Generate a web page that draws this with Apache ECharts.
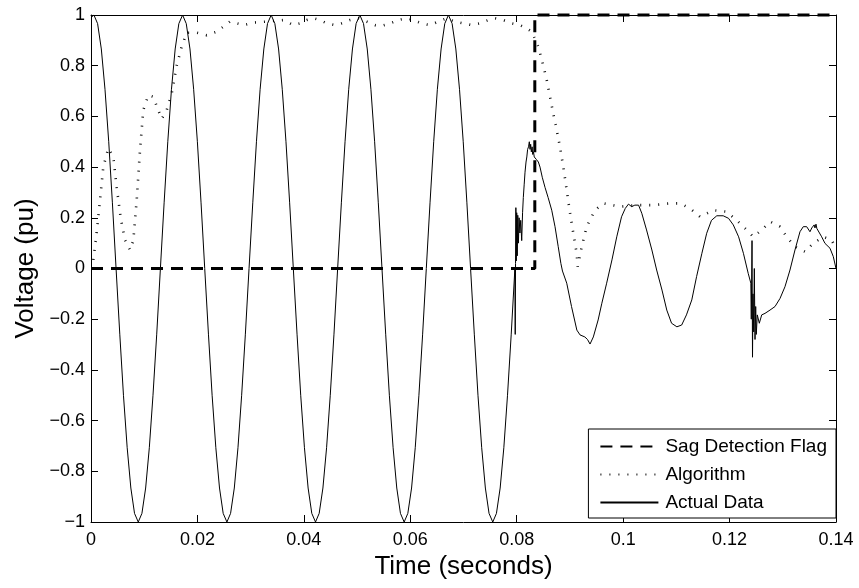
<!DOCTYPE html>
<html>
<head>
<meta charset="utf-8">
<script src="https://cdn.jsdelivr.net/npm/echarts@6/dist/echarts.min.js"></script>
<style>
html,body{margin:0;padding:0;background:#fff;}
#chart{width:859px;height:588px;}
</style>
</head>
<body>
<div id="chart"></div>
<script>
// ---- data ----
var seriesNames = ['Sag Detection Flag', 'Algorithm', 'Actual Data'];
var xTicks = [0, 0.02, 0.04, 0.06, 0.08, 0.1, 0.12, 0.14];

var tFlag = [0, 0.0834, 0.0834, 0.14];
var vFlag = [0, 0, 1, 1];

var tAlg = [0.00043, 0.00107, 0.00169, 0.00231, 0.00325, 0.00419, 0.00483, 0.00558, 0.00639, 0.00733,
  0.00795, 0.00859, 0.00921, 0.00983, 0.01077, 0.01171, 0.01235, 0.01329, 0.01423, 0.01517,
  0.01610, 0.01704, 0.01798, 0.01986, 0.02174, 0.02362, 0.02612, 0.02862, 0.03050, 0.03302,
  0.03614, 0.03802, 0.03928, 0.04053, 0.04178, 0.04303, 0.04429, 0.04585, 0.04711, 0.04867,
  0.05023, 0.05181, 0.05337, 0.05463, 0.05619, 0.05775, 0.05933, 0.06057, 0.06215, 0.06371,
  0.06527, 0.06684, 0.06840, 0.06996, 0.07154, 0.07310, 0.07466, 0.07592, 0.07748, 0.07906,
  0.08062, 0.08188, 0.08282, 0.08406, 0.08500, 0.08564, 0.08625, 0.08688, 0.08751, 0.08813,
  0.08876, 0.08939, 0.09001, 0.09064, 0.09127, 0.09146, 0.09221, 0.09315, 0.09471, 0.09627,
  0.09941, 0.10255, 0.10567, 0.10881, 0.11069, 0.11257, 0.11445, 0.11694, 0.11946, 0.12134,
  0.12322, 0.12446, 0.12604, 0.12760, 0.12948, 0.13073, 0.13229, 0.13417, 0.13573, 0.13761,
  0.13919, 0.13981];
var vAlg = [0.034, 0.14, 0.27, 0.40, 0.474, 0.44, 0.32, 0.20, 0.112, 0.073,
  0.11, 0.27, 0.467, 0.625, 0.684, 0.677, 0.64, 0.59, 0.625, 0.69,
  0.80, 0.875, 0.93, 0.93, 0.92, 0.934, 0.974, 0.96, 0.97, 0.974,
  0.98, 0.96, 0.967, 0.98, 0.987, 0.98, 0.967, 0.96, 0.967, 0.98,
  0.987, 0.974, 0.96, 0.957, 0.967, 0.98, 0.987, 0.98, 0.967, 0.96,
  0.974, 0.987, 0.974, 0.967, 0.96, 0.967, 0.98, 0.987, 0.98, 0.967,
  0.96, 0.947, 0.934, 0.875, 0.80, 0.744, 0.678, 0.61, 0.546, 0.48,
  0.40, 0.31, 0.22, 0.139, 0.06, 0.007, 0.086, 0.165, 0.23, 0.257,
  0.244, 0.25, 0.25, 0.257, 0.257, 0.237, 0.204, 0.23, 0.224, 0.19,
  0.152, 0.125, 0.152, 0.185, 0.165, 0.125, 0.086, 0.066, 0.10, 0.125,
  0.112, 0.086];

var tActual = [0, 0.00055, 0.00124, 0.00194, 0.00263, 0.00333, 0.00402, 0.00471, 0.00541, 0.00610, 0.00680,
  0.00749, 0.00818, 0.00888, 0.00957, 0.01027, 0.01096, 0.01165, 0.01235, 0.01304, 0.01374,
  0.01443, 0.01512, 0.01582, 0.01651,
  0.01721, 0.01790, 0.01860, 0.01929, 0.01999, 0.02068, 0.02137, 0.02207, 0.02276, 0.02346,
  0.02415, 0.02484, 0.02554, 0.02623, 0.02693, 0.02762, 0.02831, 0.02901, 0.02970, 0.03040,
  0.03109, 0.03178, 0.03248, 0.03317,
  0.03386, 0.03455, 0.03525, 0.03594, 0.03664, 0.03733, 0.03802, 0.03872, 0.03941, 0.04011,
  0.04080, 0.04149, 0.04219, 0.04288, 0.04358, 0.04427, 0.04496, 0.04566, 0.04635, 0.04705,
  0.04774, 0.04843, 0.04913, 0.04982,
  0.05052, 0.05121, 0.05191, 0.05260, 0.05330, 0.05399, 0.05468, 0.05538, 0.05607, 0.05677,
  0.05746, 0.05815, 0.05885, 0.05954, 0.06024, 0.06093, 0.06162, 0.06232, 0.06301, 0.06371,
  0.06440, 0.06509, 0.06579, 0.06648,
  0.06717, 0.06786, 0.06856, 0.06925, 0.06995, 0.07064, 0.07133, 0.07203, 0.07272, 0.07342,
  0.07411, 0.07480, 0.07550, 0.07619, 0.07689, 0.07758, 0.07827, 0.07897, 0.07966,
  0.07972, 0.07978, 0.07984, 0.07992, 0.08000, 0.08010, 0.08020, 0.08032, 0.08045, 0.08060,
  0.08075, 0.08094, 0.08110, 0.08124, 0.08140, 0.08156, 0.08175, 0.08190, 0.08205, 0.08222,
  0.08237, 0.08250, 0.08262, 0.08275, 0.08290, 0.08300, 0.08315, 0.08330, 0.08345, 0.08370,
  0.08407, 0.08438, 0.08480, 0.08532, 0.08590, 0.08658, 0.08720, 0.08780, 0.08830, 0.08860,
  0.08940, 0.09030, 0.09130, 0.09190, 0.09280, 0.09330, 0.09378, 0.09440, 0.09530, 0.09600,
  0.09690, 0.09790, 0.09880, 0.09970, 0.10040, 0.10100, 0.10160, 0.10220, 0.10290, 0.10350,
  0.10440, 0.10540, 0.10630, 0.10730, 0.10820, 0.10910, 0.11010, 0.11100, 0.11190, 0.11290,
  0.11380, 0.11480, 0.11570, 0.11660, 0.11760, 0.11880, 0.11980, 0.12070, 0.12170, 0.12260,
  0.12350, 0.12400, 0.12408, 0.12422, 0.12431, 0.12440, 0.12454, 0.12465, 0.12478, 0.12491,
  0.12502, 0.12521, 0.12559, 0.12604, 0.12666, 0.12760, 0.12854, 0.12948, 0.13041, 0.13135,
  0.13229, 0.13323, 0.13385, 0.13449, 0.13511, 0.13545, 0.13573, 0.13590, 0.13605, 0.13624,
  0.13640, 0.13667, 0.13731, 0.13793, 0.13887, 0.13949, 0.14000];
var vActual = [0.99, 1, 0.966, 0.866, 0.707, 0.5, 0.259, 0, -0.259, -0.5, -0.707,
  -0.866, -0.966, -1, -0.966, -0.866, -0.707, -0.5, -0.259, 0, 0.259,
  0.5, 0.707, 0.866, 0.966,
  1, 0.966, 0.866, 0.707, 0.5, 0.259, 0, -0.259, -0.5, -0.707,
  -0.866, -0.966, -1, -0.966, -0.866, -0.707, -0.5, -0.259, 0, 0.259,
  0.5, 0.707, 0.866, 0.966,
  1, 0.966, 0.866, 0.707, 0.5, 0.259, 0, -0.259, -0.5, -0.707,
  -0.866, -0.966, -1, -0.966, -0.866, -0.707, -0.5, -0.259, 0, 0.259,
  0.5, 0.707, 0.866, 0.966,
  1, 0.966, 0.866, 0.707, 0.5, 0.259, 0, -0.259, -0.5, -0.707,
  -0.866, -0.966, -1, -0.966, -0.866, -0.707, -0.5, -0.259, 0, 0.259,
  0.5, 0.707, 0.866, 0.966,
  1, 0.966, 0.866, 0.707, 0.5, 0.259, 0, -0.259, -0.5, -0.707,
  -0.866, -0.966, -1, -0.966, -0.866, -0.707, -0.5, -0.259, 0,
  -0.26, 0.02, 0.24, 0.03, 0.22, 0.05, 0.21, 0.10, 0.20, 0.14,
  0.19, 0.11, 0.22, 0.28, 0.33, 0.38, 0.42, 0.44, 0.47, 0.48,
  0.50, 0.47, 0.49, 0.46, 0.48, 0.45, 0.46, 0.44, 0.435, 0.43,
  0.42, 0.40, 0.36, 0.32, 0.28, 0.23, 0.165, 0.086, 0.02, -0.01,
  -0.058, -0.15, -0.243, -0.262, -0.27, -0.28, -0.298, -0.27, -0.203, -0.137,
  -0.058, 0.034, 0.125, 0.204, 0.237, 0.254, 0.244, 0.25, 0.25, 0.218,
  0.152, 0.073, -0.006, -0.085, -0.164, -0.216, -0.23, -0.223, -0.183, -0.124,
  -0.032, 0.06, 0.139, 0.19, 0.208, 0.208, 0.198, 0.172, 0.125, 0.06,
  -0.019, -0.058, -0.2, 0.11, -0.35, -0.1, -0.25, 0.0, -0.28, -0.15,
  -0.26, -0.183, -0.216, -0.183, -0.177, -0.164, -0.15, -0.118, -0.072, -0.006,
  0.073, 0.145, 0.165, 0.165, 0.145, 0.16, 0.158, 0.172, 0.16, 0.175,
  0.158, 0.152, 0.125, 0.099, 0.08, 0.047, 0.0];

function pairs(t, v) {
  var out = [];
  for (var i = 0; i < t.length && i < v.length; i++) out.push([t[i], v[i]]);
  return out;
}

var FONT = '"Liberation Sans", Arial, Helvetica, sans-serif';
var chart = echarts.init(document.getElementById('chart'), null, {renderer: 'canvas'});

var axisLine = {show: true, onZero: false, lineStyle: {color: '#000', width: 1}};
var axisTick = {show: true, inside: true, length: 7, lineStyle: {color: '#000', width: 1}};

var option = {
  animation: false,
  backgroundColor: '#fff',
  color: ['#000', '#000', '#000'],
  grid: {left: 91, right: 23, top: 15, bottom: 66, containLabel: false},
  legend: {
    data: seriesNames,
    orient: 'vertical',
    right: 23,
    top: 429,
    backgroundColor: '#fff',
    borderColor: '#000',
    borderWidth: 1,
    padding: [8, 9, 6, 11],
    itemWidth: 58,
    itemHeight: 14,
    itemGap: 9,
    itemStyle: {opacity: 0},
    textStyle: {color: '#000', fontSize: 19, fontFamily: FONT, padding: [0, 0, 0, 2]}
  },
  xAxis: [{
    type: 'value', position: 'bottom', min: 0, max: 0.14, interval: 0.02,
    axisLine: axisLine, axisTick: axisTick, splitLine: {show: false},
    axisLabel: {color: '#000', fontSize: 18, fontFamily: FONT, margin: 9,
      formatter: function (v) { return String(Math.round(v * 100) / 100); }},
    name: 'Time (seconds)', nameLocation: 'middle', nameGap: 28,
    nameTextStyle: {color: '#000', fontSize: 26, fontFamily: FONT}
  }, {
    type: 'value', position: 'top', min: 0, max: 0.14, interval: 0.02,
    axisLine: axisLine, axisTick: axisTick, splitLine: {show: false},
    axisLabel: {show: false}
  }],
  yAxis: [{
    type: 'value', position: 'left', min: -1, max: 1, interval: 0.2,
    axisLine: axisLine, axisTick: axisTick, splitLine: {show: false},
    axisLabel: {color: '#000', fontSize: 18, fontFamily: FONT, margin: 6,
      formatter: function (v) { return String(Math.round(v * 10) / 10).replace('-', '\u2212'); }},
    name: 'Voltage (pu)', nameLocation: 'middle', nameGap: 52, nameRotate: 90,
    nameTextStyle: {color: '#000', fontSize: 26, fontFamily: FONT}
  }, {
    type: 'value', position: 'right', min: -1, max: 1, interval: 0.2,
    axisLine: axisLine, axisTick: axisTick, splitLine: {show: false},
    axisLabel: {show: false}
  }],
  series: [{
    name: seriesNames[0], type: 'line', data: pairs(tFlag, vFlag),
    symbol: 'none', clip: false, z: 3,
    itemStyle: {color: '#000'},
    lineStyle: {color: '#000', width: 3, type: [12, 8], cap: 'butt'}
  }, {
    name: seriesNames[1], type: 'line', data: pairs(tAlg, vAlg),
    symbol: 'none', z: 2,
    itemStyle: {color: '#000'},
    lineStyle: {color: '#111', width: 2.6, type: [1, 8], cap: 'butt'}
  }, {
    name: seriesNames[2], type: 'line', data: pairs(tActual, vActual),
    symbol: 'none', z: 4,
    itemStyle: {color: '#000'},
    lineStyle: {color: '#000', width: 1}
  }]
};
chart.setOption(option);
</script>
</body>
</html>
